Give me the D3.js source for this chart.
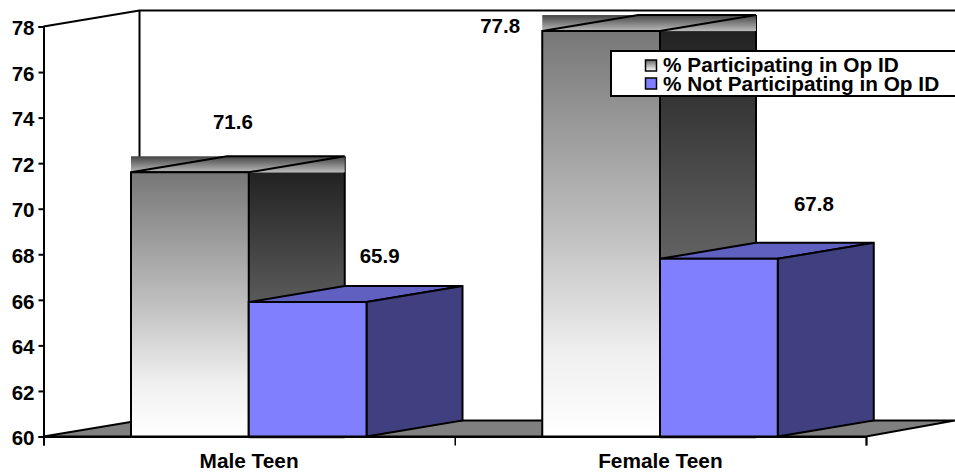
<!DOCTYPE html>
<html>
<head>
<meta charset="utf-8">
<script src="https://cdnjs.cloudflare.com/ajax/libs/d3/7.8.5/d3.min.js"></script>
<style>
  body { margin: 0; background: #fff; }
  text { font-family: "Liberation Sans", Arial, sans-serif; font-weight: bold; fill: #000; }
</style>
</head>
<body>
<svg id="chart" width="955" height="473"></svg>
<script>
var categories = ["Male Teen", "Female Teen"];
var seriesNames = ["% Participating in Op ID", "% Not Participating in Op ID"];
var participating = [71.6, 77.8];
var notParticipating = [65.9, 67.8];
var yTicks = [60, 62, 64, 66, 68, 70, 72, 74, 76, 78];

// where the value labels sit, relative to the bar front centre / top
var labelShift = [
    [[43, -43], [-101, 1.5]],
    [[72, -39], [95, -47.5]]
];

var svg = d3.select("#chart");
var left = 43.5, right = 866, base = 436.5, top3d = 26.5;
var depthX = 96, depthY = -16;

var y = d3.scaleLinear().domain([60, 78]).range([base, top3d]);
var x0 = d3.scaleBand().domain(categories).range([left, right]);
var x1 = d3.scaleBand().domain([0, 1]).range([87.5, 323]);

var defs = svg.append("defs");
function gradient(id, stops) {
    var g = defs.append("linearGradient").attr("id", id)
        .attr("x1", 0).attr("y1", 0).attr("x2", 0).attr("y2", 1);
    stops.forEach(function(s) {
        g.append("stop").attr("offset", s[0]).attr("stop-color", s[1]);
    });
}
gradient("front", [[0, "#777"], [0.5, "#c0c0c0"], [0.8, "#f0f0f0"], [1, "#fff"]]);
gradient("side", [[0, "#222"], [0.5, "#5c5c5c"], [1, "#8a8a8a"]]);
gradient("cap", [[0, "#444"], [1, "#bbb"]]);
gradient("swatch", [[0, "#666"], [1, "#fff"]]);

var poly = d3.line();

// floor and walls
svg.append("path")
    .attr("d", poly([[left, base], [left + depthX, base + depthY], [955, base + depthY], [right, base]]) + "Z")
    .attr("fill", "#808080").attr("stroke", "#000").attr("stroke-width", 2);
svg.append("path")
    .attr("d", poly([[left, top3d], [left + depthX, top3d + depthY], [955, top3d + depthY]]))
    .attr("fill", "none").attr("stroke", "#000").attr("stroke-width", 2);
svg.append("path")
    .attr("d", poly([[left + depthX, top3d + depthY], [left + depthX, base + depthY]]))
    .attr("fill", "none").attr("stroke", "#000").attr("stroke-width", 2);

function face(pts, fill, width) {
    svg.append("path").attr("d", poly(pts) + "Z")
        .attr("fill", fill).attr("stroke", "#000").attr("stroke-width", width || 2)
        .attr("stroke-linejoin", "miter");
}

function grayBar(cat, v) {
    var xa = x0(cat) + x1(0), xb = xa + x1.bandwidth(), t = y(v);
    // the gradient boxes of the original export show through around the faces
    svg.append("rect").attr("x", xb).attr("y", t).attr("width", depthX)
        .attr("height", base + 2 - t).attr("fill", "url(#side)");
    svg.append("path").attr("d", poly([[xb + depthX, t + depthY], [xb + depthX, base + depthY]]))
        .attr("stroke", "#000").attr("stroke-width", 2);
    svg.append("rect").attr("x", xa).attr("y", t + depthY).attr("width", xb + depthX - xa)
        .attr("height", -depthY).attr("fill", "url(#cap)");
    svg.append("path")
        .attr("d", poly([[xa, t], [xa + depthX, t + depthY], [xb + depthX, t + depthY], [xb, t]]) + "Z")
        .attr("fill", "none").attr("stroke", "#000").attr("stroke-width", 2);
    face([[xa, t], [xb, t], [xb, base], [xa, base]], "url(#front)");
}

function blueBar(cat, v) {
    var xa = x0(cat) + x1(1), xb = xa + x1.bandwidth(), t = y(v);
    face([[xa, t], [xa + depthX, t + depthY], [xb + depthX, t + depthY], [xb, t]], "#6060c0");
    face([[xb, t], [xb + depthX, t + depthY], [xb + depthX, base + depthY], [xb, base]], "#404080");
    face([[xa, t], [xb, t], [xb, base], [xa, base]], "#8080ff");
}

categories.forEach(function(c, i) { grayBar(c, participating[i]); });
categories.forEach(function(c, i) { blueBar(c, notParticipating[i]); });

// axes
var yAxis = d3.axisLeft(y).tickValues(yTicks).tickSize(5).tickPadding(4);
var gy = svg.append("g").attr("transform", "translate(" + left + ",0)").call(yAxis);
gy.selectAll("text").attr("font-size", 20.5).attr("dy", "0.4em");
gy.attr("font-family", null);
gy.selectAll("line").attr("stroke-width", 2);
gy.select(".domain").attr("stroke-width", 2);

var xEdges = d3.scaleLinear().domain([0, categories.length]).range([left, right]);
var gx = svg.append("g").attr("transform", "translate(0," + base + ")")
    .call(d3.axisBottom(xEdges).tickValues([0, 1, 2]).tickSize(9).tickFormat(""));
gx.select(".domain").attr("stroke-width", 2);
gx.selectAll("line").attr("stroke-width", 1.5);

svg.selectAll(".cat").data(categories).join("text").attr("class", "cat")
    .attr("x", function(d) { return x0(d) + x0.bandwidth() / 2; })
    .attr("y", 468).attr("text-anchor", "middle").attr("font-size", 20.8)
    .text(function(d) { return d; });

// value labels
[participating, notParticipating].forEach(function(vals, s) {
    vals.forEach(function(v, i) {
        var c = categories[i];
        svg.append("text")
            .attr("x", x0(c) + x1(s) + x1.bandwidth() / 2 + labelShift[s][i][0])
            .attr("y", y(v) + labelShift[s][i][1])
            .attr("text-anchor", "middle").attr("font-size", 20.5)
            .text(v.toFixed(1));
    });
});

// legend
svg.append("rect").attr("x", 611).attr("y", 51).attr("width", 346).attr("height", 45)
    .attr("fill", "#fff").attr("stroke", "#000").attr("stroke-width", 2);
seriesNames.forEach(function(name, i) {
    svg.append("rect").attr("x", 645.5).attr("y", 60 + i * 18).attr("width", 11).attr("height", 11)
        .attr("fill", i == 0 ? "url(#swatch)" : "#8080ff").attr("stroke", "#000").attr("stroke-width", 1.5);
    svg.append("text").attr("x", 663).attr("y", 72 + i * 18.5).attr("font-size", 20.8).text(name);
});
</script>
</body>
</html>
